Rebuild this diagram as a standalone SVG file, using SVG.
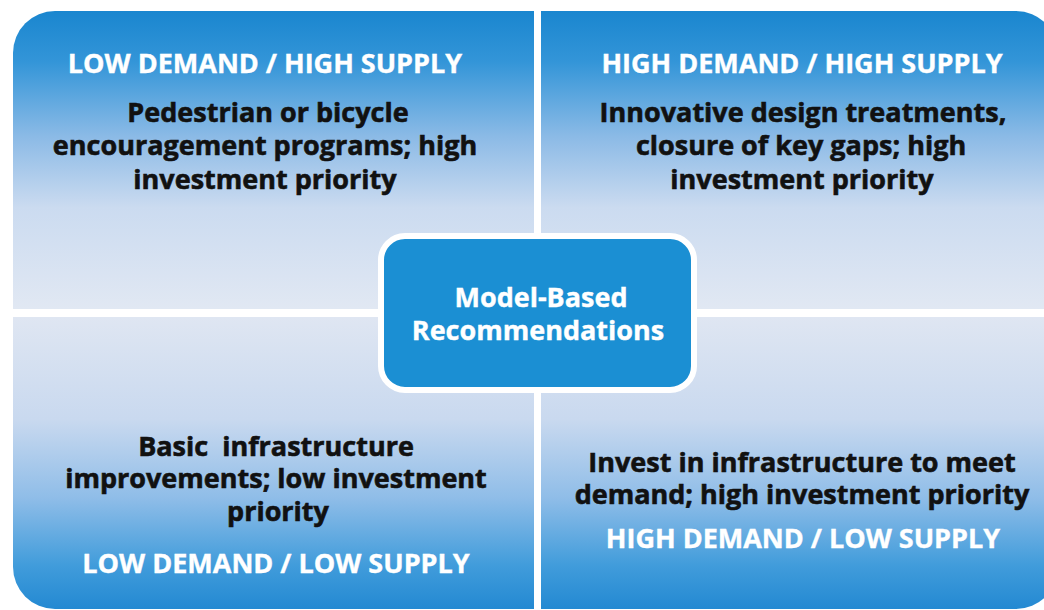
<svg xmlns="http://www.w3.org/2000/svg" width="1044" height="610" viewBox="0 0 1044 610">
  <defs>
    <!-- upper quadrants: strong blue at the top edge fading to pale -->
    <linearGradient id="fadeDown" x1="0" y1="0" x2="0" y2="1">
      <stop offset="0" stop-color="#1a86cf"/>
      <stop offset="0.17" stop-color="#3395d8"/>
      <stop offset="0.42" stop-color="#8bbae6"/>
      <stop offset="0.66" stop-color="#cbdbf0"/>
      <stop offset="1" stop-color="#e1e8f3"/>
    </linearGradient>
    <!-- lower quadrants: pale at the top, strong blue at the bottom edge -->
    <linearGradient id="fadeUp" x1="0" y1="0" x2="0" y2="1">
      <stop offset="0" stop-color="#dfe6f2"/>
      <stop offset="0.35" stop-color="#c9d9ef"/>
      <stop offset="0.62" stop-color="#8fbde8"/>
      <stop offset="0.85" stop-color="#419cdb"/>
      <stop offset="1" stop-color="#2389d2"/>
    </linearGradient>
  </defs>
  <style>
    text { font-family: "Open Sans", "Noto Sans", "Liberation Sans", sans-serif; font-weight: 700; font-size: 27px; text-anchor: middle; }
    .head { fill: #ffffff; stroke: #ffffff; stroke-width: 0.4px; }
    .body { fill: #111111; stroke: #111111; stroke-width: 0.6px; }
    .hub { fill: #ffffff; stroke: #ffffff; stroke-width: 0.4px; }
  </style>

  <rect width="1044" height="610" fill="#ffffff"/>

  <g id="low-demand-high-supply">
    <path d="M13,309 V53 A42,42 0 0 1 55,11 H534 V309 Z" fill="url(#fadeDown)"/>
    <text class="head" x="265" y="73">LOW DEMAND / HIGH SUPPLY</text>
    <text class="body" x="268" y="122">Pedestrian or bicycle</text>
    <text class="body" x="265" y="155">encouragement programs; high</text>
    <text class="body" x="265" y="189">investment priority</text>
  </g>

  <g id="high-demand-high-supply">
    <path d="M541,11 H1016 A42,42 0 0 1 1058,53 V309 H541 Z" fill="url(#fadeDown)"/>
    <text class="head" x="802" y="73">HIGH DEMAND / HIGH SUPPLY</text>
    <text class="body" x="803" y="122">Innovative design treatments,</text>
    <text class="body" x="801" y="155">closure of key gaps; high</text>
    <text class="body" x="802" y="189">investment priority</text>
  </g>

  <g id="low-demand-low-supply">
    <path d="M13,317 H534 V609 H55 A42,42 0 0 1 13,567 Z" fill="url(#fadeUp)"/>
    <text class="body" x="276" y="456" xml:space="preserve">Basic  infrastructure</text>
    <text class="body" x="276" y="488">improvements; low investment</text>
    <text class="body" x="278" y="521">priority</text>
    <text class="head" x="276" y="573">LOW DEMAND / LOW SUPPLY</text>
  </g>

  <g id="high-demand-low-supply">
    <path d="M541,317 H1058 V567 A42,42 0 0 1 1016,609 H541 Z" fill="url(#fadeUp)"/>
    <text class="body" x="802" y="472">Invest in infrastructure to meet</text>
    <text class="body" x="802" y="504">demand; high investment priority</text>
    <text class="head" x="803" y="548">HIGH DEMAND / LOW SUPPLY</text>
  </g>

  <g id="model-based-recommendations">
    <rect x="381" y="236" width="313" height="154" rx="24" fill="#1b8fd3" stroke="#ffffff" stroke-width="6"/>
    <text class="hub" x="541" y="307">Model-Based</text>
    <text class="hub" x="538" y="340">Recommendations</text>
  </g>

  <g id="connectors"/>
</svg>
